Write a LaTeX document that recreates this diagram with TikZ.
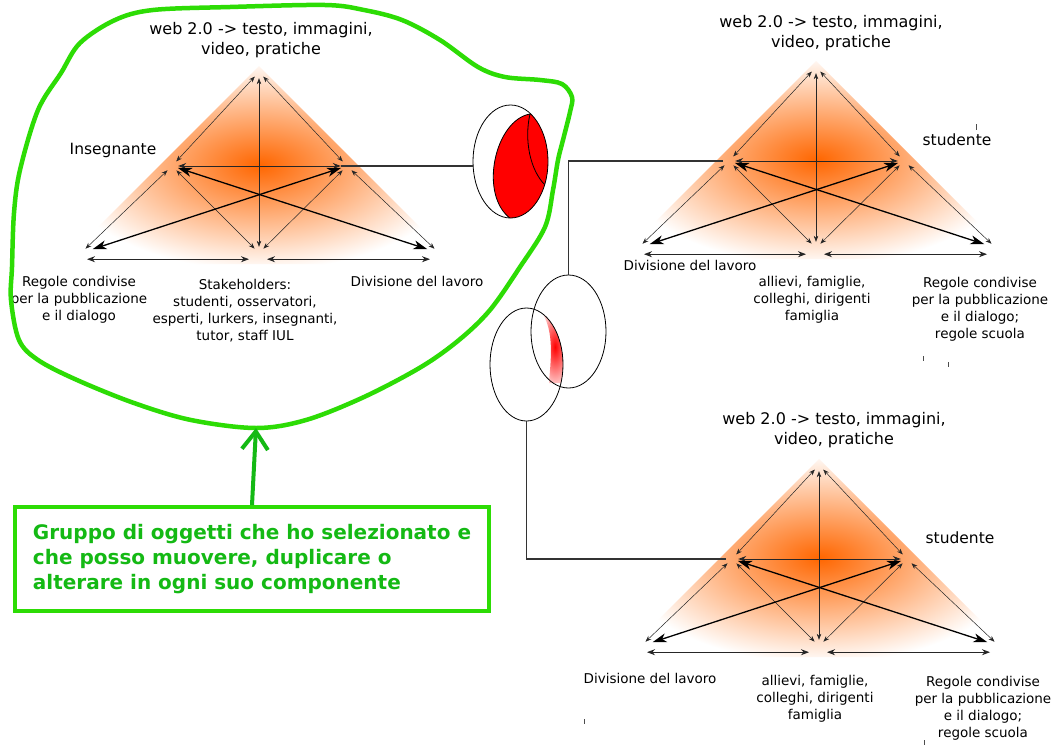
\documentclass[tikz,border=0pt]{standalone}
\usepackage{fontspec}
\setmainfont{DejaVu Sans}
\usetikzlibrary{arrows.meta,shapes.geometric,calc}

\definecolor{arancio}{RGB}{255,102,0}
\definecolor{verde}{RGB}{45,220,5}
\definecolor{verdetesto}{RGB}{20,185,20}

\tikzset{
  vertice/.style={circle, minimum size=12pt, inner sep=0pt},
  sottile/.style={<->, >={Stealth[length=6pt,width=4.5pt]}, line width=0.5pt, black!85},
  media/.style={<->, >={Stealth[length=8pt,width=6pt]}, line width=0.9pt, black!85},
  grossa/.style={<->, >={Stealth[length=14pt,width=9pt,inset=4pt]}, line width=1.3pt},
  titolo/.style={align=center, font=\fontsize{16}{20}\selectfont},
  etichetta/.style={align=center, font=\fontsize{13.5}{17}\selectfont},
  ruolo/.style={font=\fontsize{15.5}{18}\selectfont},
  linea/.style={line width=1.2pt, black!80},
  ovale/.style={draw, ellipse, line width=0.8pt, minimum width=75pt, minimum height=113pt, inner sep=0pt},
  segno/.style={line width=0.8pt, black!70},
  triangolo/.pic={
    % sfondo sfumato
    \begin{scope}
      \clip (259,66) -- (61,264) -- (457,264) -- cycle;
      \shade[inner color=arancio, outer color=white] (260,165) ellipse [x radius=200, y radius=105];
    \end{scope}
    % vertici
    \node[vertice] (-a) at (259,72) {};
    \node[vertice] (-l) at (172,166) {};
    \node[vertice] (-r) at (347,166) {};
    \node[vertice] (-bl) at (81,253) {};
    \node[vertice] (-bc) at (259,253) {};
    \node[vertice] (-br) at (439,253) {};
    % frecce
    \draw[sottile] (-a) -- (-l);
    \draw[sottile] (-a) -- (-r);
    \draw[sottile] (-a) -- (-bc);
    \draw[media] (-l) -- (-r);
    \draw[sottile] (-l) -- (-bl);
    \draw[sottile] (-l) -- (-bc);
    \draw[sottile] (-r) -- (-bc);
    \draw[sottile] (-r) -- (-br);
    \draw[grossa, shorten <=6pt] (-bl) -- (-r);
    \draw[grossa, shorten >=6pt] (-l) -- (-br);
    \draw[media, shorten <=6pt, shorten >=10pt] (-bl.south) -- (-bc.south);
    \draw[media, shorten <=8pt, shorten >=9pt] (-bc.south) -- (-br.south);
  }
}

\begin{document}
\begin{tikzpicture}[x=1pt, y=-1pt]
\path[use as bounding box, fill=white] (0,0) rectangle (1053,745);

% tre triangoli
\pic (t1) at (0,0) {triangolo};
\pic (t2) at (557,-5) {triangolo};
\pic (t3) at (560,393) {triangolo};

% etichette primo triangolo
\node[titolo] (t1-titolo) at (261,40) {web 2.0 -> testo, immagini,\\video, pratiche};
\node[ruolo] (t1-ruolo) at (113,150) {Insegnante};
\node[etichetta] (t1-regole) at (79,300) {Regole condivise\\per la pubblicazione\\e il dialogo};
\node[etichetta] (t1-comunita) at (245,311) {Stakeholders:\\studenti, osservatori,\\esperti, lurkers, insegnanti,\\tutor, staff IUL};
\node[etichetta] (t1-divisione) at (417,281) {Divisione del lavoro};

% etichette secondo triangolo
\node[titolo] (t2-titolo) at (831,33) {web 2.0 -> testo, immagini,\\video, pratiche};
\node[ruolo] (t2-ruolo) at (957,140) {studente};
\node[etichetta] (t2-divisione) at (690,265) {Divisione del lavoro};
\node[etichetta] (t2-comunita) at (812,300) {allievi, famiglie,\\colleghi, dirigenti\\famiglia};
\node[etichetta] (t2-regole) at (980,309) {Regole condivise\\per la pubblicazione\\e il dialogo;\\regole scuola};

% etichette terzo triangolo
\node[titolo] (t3-titolo) at (834,430) {web 2.0 -> testo, immagini,\\video, pratiche};
\node[ruolo] (t3-ruolo) at (960,538) {studente};
\node[etichetta] (t3-divisione) at (650,678) {Divisione del lavoro};
\node[etichetta] (t3-comunita) at (815,699) {allievi, famiglie,\\colleghi, dirigenti\\famiglia};
\node[etichetta] (t3-regole) at (983,708) {Regole condivise\\per la pubblicazione\\e il dialogo;\\regole scuola};

% ovale con spicchio rosso
\begin{scope}
  \clip (510.5,161.5) ellipse [x radius=37.5, y radius=56.5];
  \fill[red, draw=black, line width=0.8pt] (530,114) .. controls (495,120) and (478,195) .. (511,219) -- (560,219) -- (560,105) -- cycle;
  \draw[line width=0.8pt] (530,114) .. controls (524,140) and (530,170) .. (545,185);
\end{scope}
\node[ovale] (e1) at (510.5,161.5) {};
\draw[linea] (t1-r.west) -- (t1-r.west -| e1.west);

% ovali intersecati
\begin{scope}
  \clip (526.5,364.5) ellipse [x radius=36.5, y radius=56.5];
  \clip (540,310) .. controls (556,330) and (550,365) .. (549,383) -- (580,383) -- (580,310) -- cycle;
  \shade[inner color=red, outer color=white] (555,347) ellipse [x radius=20, y radius=48];
\end{scope}
\node[ovale] (va) at (568.5,331.5) {};
\node[ovale, minimum width=73pt] (vb) at (526.5,364.5) {};
\draw[linea] (va.north) |- (t2-l.west);
\draw[linea] (vb.south) |- (t3-l.west);

% segni sparsi
\draw[segno] (976,124) -- (976,130);
\draw[segno] (923,356) -- (923,361);
\draw[segno] (948,362) -- (948,367);
\draw[segno] (584,719) -- (584,724);
\draw[segno] (924,740) -- (924,745);

% contorno verde del gruppo
\draw[verde, line width=4.5pt, line join=round] plot[smooth cycle, tension=0.55] coordinates {
  (256,428) (306,420) (364,397) (421,367) (459,340) (490,310) (520,267) (545,227)
  (553,190) (558,160) (563,140) (570,112) (572,97) (562,84) (540,80) (505,77)
  (478,67) (440,40) (402,20) (364,10) (325,5) (230,7) (153,10) (115,20) (80,43)
  (61,73) (38,110) (20,170) (14,213) (12,267) (11,300) (19,340) (38,360) (77,380)
  (134,403) (191,420)};
\coordinate (fondo) at (256,428);

% nota
\node[draw=verde, line width=4pt, minimum width=474pt, minimum height=104pt, align=left,
  text=verdetesto, font=\fontsize{20}{25}\selectfont\bfseries] (nota) at (252,559)
  {Gruppo di oggetti che ho selezionato e\\che posso muovere, duplicare o\\alterare in ogni suo componente};
\draw[verdetesto, line width=4pt, -{Straight Barb[length=18pt,width=26pt]}] (nota.north) -- (fondo);
\end{tikzpicture}
\end{document}
